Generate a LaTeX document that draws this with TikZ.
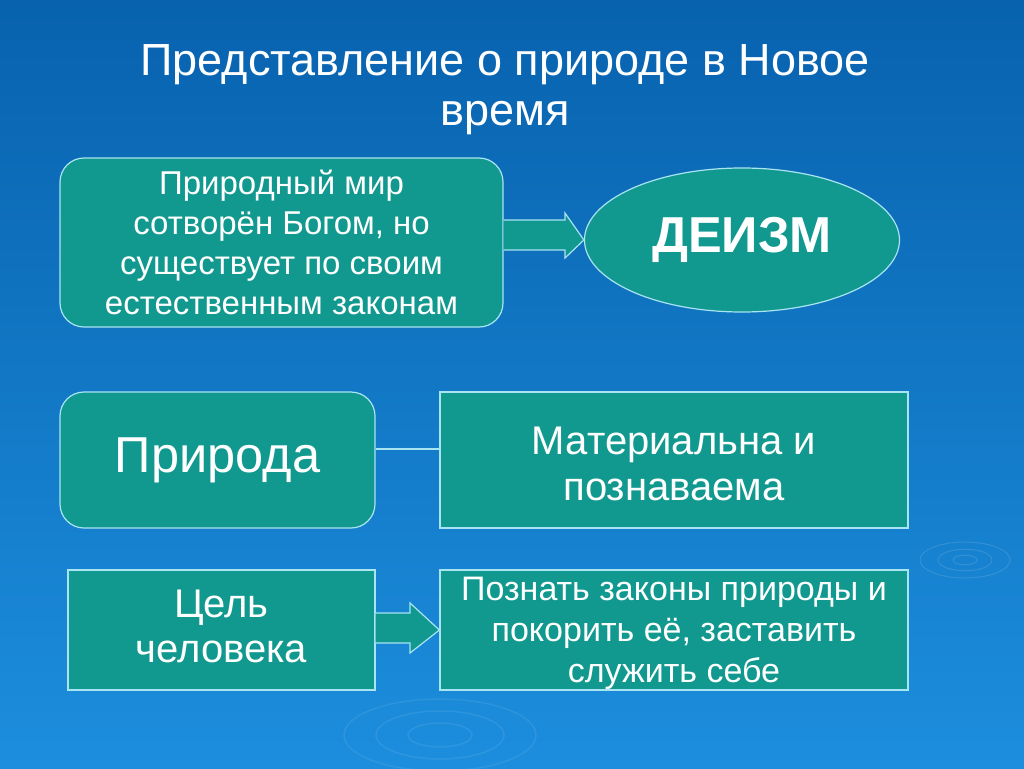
\documentclass[tikz,border=0pt]{standalone}
\usepackage{fontspec}
\setmainfont{Liberation Sans}
\usetikzlibrary{shapes.geometric}
\definecolor{bgtop}{HTML}{0862AE}
\definecolor{bgbot}{HTML}{1C8EDD}
\definecolor{boxfill}{HTML}{11998F}
\definecolor{boxline}{HTML}{A8E4F2}
\tikzset{
  box/.style={draw=boxline, line width=1.2pt, fill=boxfill, text=white, align=center, inner sep=0pt},
  rbox/.style={box, rounded corners=24pt},
  txt/.style={text=white, align=center, inner sep=0pt},
  conn/.style={draw=boxline, line width=1.2pt, fill=boxfill},
  fa/.style={font=\fontsize{33}{40}\selectfont},
  fb/.style={font=\fontsize{40}{46}\selectfont},
  fc/.style={font=\fontsize{34}{41}\selectfont},
  fbig/.style={font=\fontsize{50.5}{56}\selectfont},
}
\begin{document}
\begin{tikzpicture}[x=1pt,y=-1pt]
\shade[top color=bgtop, bottom color=bgbot] (0,0) rectangle (1024,768);
\useasboundingbox (0,0) rectangle (1024,768);
% faint ripples
\foreach \r in {8,18,30}{\draw[white, opacity=0.12, line width=1pt] (965,560) ellipse ({\r*1.5} and {\r*0.6});}
\foreach \r in {20,40,60}{\draw[white, opacity=0.08, line width=1.5pt] (440,735) ellipse ({\r*1.6} and {\r*0.6});}

\node[text=white, align=center, font=\fontsize{45}{50}\selectfont] (title) at (505,90) {Представление о природе в Новое\\время};

\node[rbox, fa, minimum width=443pt, minimum height=169pt] (b1) at (281.5,242.5)
  {Природный мир\\сотворён Богом, но\\существует по своим\\естественным законам};
\node[box, ellipse, minimum width=315pt, minimum height=144pt, font=\fontsize{50.5}{56}\bfseries\selectfont] (deism) at (742,240) {ДЕИЗМ};

\node[rbox, fbig, minimum width=315pt, minimum height=136pt] (nat) at (217.5,460) {Природа};
\node[box, minimum width=468pt, minimum height=136pt] (mat) at (674,460) {};
\node[txt, fb] (matt) at ([yshift=-4pt]mat.center) {Материальна и\\познаваема};

\node[box, minimum width=307pt, minimum height=120pt] (goal) at (221.5,630) {};
\node[txt, font=\fontsize{40}{45}\selectfont] (goalt) at ([yshift=4pt]goal.center) {Цель\\человека};
\node[box, minimum width=468pt, minimum height=120pt] (know) at (674,630) {};
\node[txt, fc] (knowt) at ([yshift=-3pt]know.center) {Познать законы природы и\\покорить её, заставить\\служить себе};

% block arrow 1
\path[conn] (b1.east |- 0,220) -- (565,220) -- (565,213) -- (deism.west) -- (565,258) -- (565,250) -- (b1.east |- 0,250);
% line
\draw[boxline, line width=1.2pt] (nat.east |- 0,449) -- (mat.west |- 0,449);
% block arrow 2
\path[conn] (goal.east |- 0,613) -- (410,613) -- (410,603) -- (know.west) -- (410,653) -- (410,643) -- (goal.east |- 0,643);
\end{tikzpicture}
\end{document}
